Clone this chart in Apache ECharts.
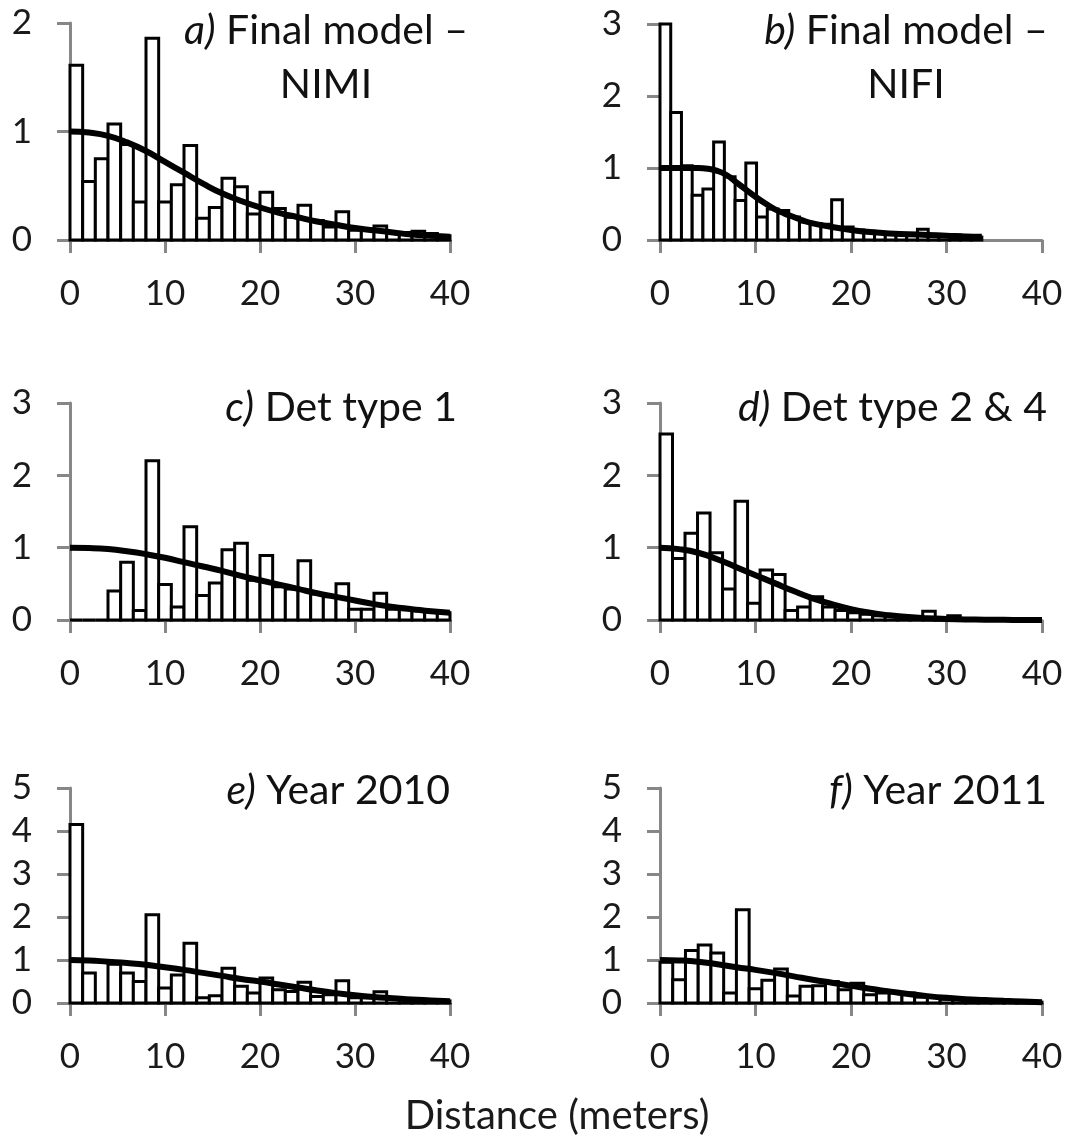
<!DOCTYPE html>
<html>
<head>
<meta charset="utf-8">
<script src="https://cdn.jsdelivr.net/npm/echarts@6/dist/echarts.min.js"></script>
<style>
  html, body { margin: 0; padding: 0; background: #fff; }
  #chart { width: 1068px; height: 1143px; }
</style>
</head>
<body>
<div id="chart"></div>
<script>
// histogram bin widths (m), 30 bins per panel
const binWidths = [40 / 30, 33.7 / 30, 40 / 30, 39.3 / 30, 40 / 30, 40 / 30];

const barsA = [1.61, 0.54, 0.75, 1.07, 0.88, 0.35, 1.86, 0.35, 0.51, 0.87, 0.2, 0.3, 0.57, 0.49, 0.24,
    0.44, 0.29, 0.21, 0.32, 0.18, 0.12, 0.26, 0.09, 0.09, 0.13, 0.06, 0.07, 0.08, 0.06, 0.04];
const barsB = [3.0, 1.77, 1.03, 0.62, 0.71, 1.36, 0.88, 0.55, 1.07, 0.32, 0.43, 0.41, 0.32, 0.25, 0.23,
    0.22, 0.56, 0.18, 0.14, 0.12, 0.1, 0.09, 0.08, 0.07, 0.15, 0.06, 0.05, 0.07, 0.05, 0.04];
const barsC = [0, 0, 0, 0.4, 0.8, 0.13, 2.2, 0.49, 0.18, 1.29, 0.34, 0.51, 0.97, 1.06, 0.55,
    0.89, 0.46, 0.43, 0.82, 0.36, 0.32, 0.5, 0.15, 0.15, 0.37, 0.15, 0.14, 0.13, 0.12, 0.1];
const barsD = [2.57, 0.85, 1.2, 1.48, 0.93, 0.43, 1.64, 0.23, 0.69, 0.63, 0.13, 0.18, 0.32, 0.18, 0.13,
    0.1, 0.08, 0.06, 0.05, 0.04, 0.03, 0.12, 0.03, 0.06, 0.01, 0.02, 0, 0, 0, 0];
const barsE = [4.15, 0.7, 0, 0.9, 0.7, 0.5, 2.05, 0.35, 0.65, 1.39, 0.12, 0.17, 0.81, 0.39, 0.23,
    0.58, 0.31, 0.27, 0.48, 0.15, 0.19, 0.52, 0.12, 0.12, 0.26, 0.09, 0.09, 0.09, 0.06, 0.05];
const barsF = [0.95, 0.54, 1.22, 1.35, 1.16, 0.23, 2.17, 0.33, 0.53, 0.79, 0.16, 0.39, 0.4, 0.5, 0.31,
    0.46, 0.19, 0.23, 0.23, 0.23, 0.14, 0.15, 0.09, 0.08, 0.06, 0.05, 0.05, 0.06, 0.03, 0.02];

// fitted detection curves
const lineX = [0, 2, 4, 6, 8, 10, 12, 14, 16, 18, 20, 22, 24, 26, 28, 30, 32, 34, 36, 38, 40];
const lineXB = [0, 2, 4, 5, 6, 7, 8, 9, 10, 11, 12, 13, 14, 15, 16, 18, 20, 22, 24, 26, 28, 30, 32, 33.7];
const lineA = [1.0, 0.99, 0.96, 0.9, 0.82, 0.72, 0.62, 0.52, 0.43, 0.36, 0.3, 0.25, 0.21, 0.17, 0.14,
    0.11, 0.09, 0.07, 0.05, 0.04, 0.03];
const lineB = [1.0, 1.0, 1.0, 0.99, 0.96, 0.9, 0.8, 0.7, 0.6, 0.51, 0.43, 0.37, 0.32, 0.27, 0.23,
    0.18, 0.14, 0.11, 0.09, 0.08, 0.07, 0.06, 0.05, 0.045];
const lineC = [1.0, 0.995, 0.98, 0.95, 0.91, 0.86, 0.8, 0.74, 0.68, 0.61, 0.55, 0.49, 0.43, 0.37, 0.32,
    0.27, 0.22, 0.18, 0.15, 0.12, 0.1];
const lineD = [1.0, 0.98, 0.93, 0.84, 0.73, 0.62, 0.51, 0.4, 0.3, 0.22, 0.15, 0.1, 0.065, 0.04, 0.025,
    0.015, 0.008, 0.004, 0.002, 0.001, 0];
const lineE = [1.0, 0.99, 0.96, 0.93, 0.89, 0.83, 0.77, 0.7, 0.63, 0.56, 0.5, 0.43, 0.36, 0.29, 0.23,
    0.18, 0.14, 0.11, 0.08, 0.06, 0.04];
const lineF = [1.0, 0.99, 0.96, 0.9, 0.83, 0.77, 0.7, 0.62, 0.54, 0.47, 0.4, 0.33, 0.27, 0.21, 0.16,
    0.12, 0.09, 0.07, 0.05, 0.035, 0.02];

const xTicks = [0, 10, 20, 30, 40];
const yMax = [2, 3, 3, 3, 5, 5];

const panelTitles = [
    ['a)', ' Final model –', 'NIMI'],
    ['b)', ' Final model –', 'NIFI'],
    ['c)', ' Det type 1'],
    ['d)', ' Det type 2 & 4'],
    ['e)', ' Year 2010'],
    ['f)', ' Year 2011']
];

const bars = [barsA, barsB, barsC, barsD, barsE, barsF];
const lines = [lineA, lineB, lineC, lineD, lineE, lineF];
const linesX = [lineX, lineXB, lineX, lineX, lineX, lineX];

const FONT = 'Lato';
const gridPos = [
    { left: 70, top: 23, width: 380, height: 217 },
    { left: 660, top: 24, width: 382, height: 216 },
    { left: 70, top: 403, width: 380, height: 217 },
    { left: 660, top: 403, width: 382, height: 217 },
    { left: 70, top: 788, width: 380, height: 215 },
    { left: 660, top: 788, width: 382, height: 215 }
];
const titlePos = [
    { left: 326, top: 4, align: 'center' }, { left: 906, top: 4, align: 'center' },
    { left: 457, top: 381, align: 'right' }, { left: 1047, top: 381, align: 'right' },
    { left: 450, top: 764, align: 'right' }, { left: 1047, top: 764, align: 'right' }
];

let myChart = echarts.init(document.getElementById('chart'));

const axisColor = '#878787';
let grids = [], xAxes = [], yAxes = [], series = [], titles = [];

for (let i = 0; i < 6; i++) {
    grids.push(gridPos[i]);
    xAxes.push({
        type: 'value', gridIndex: i, min: xTicks[0], max: xTicks[xTicks.length - 1], interval: 10,
        axisLine: { lineStyle: { color: axisColor, width: 3 } },
        axisTick: { length: 13, lineStyle: { color: axisColor, width: 3 } },
        splitLine: { show: false },
        axisLabel: { fontFamily: FONT, fontSize: 35, color: '#1a1a1a', margin: 36 }
    });
    yAxes.push({
        type: 'value', gridIndex: i, min: 0, max: yMax[i], interval: 1,
        axisLine: { show: true, lineStyle: { color: axisColor, width: 3 } },
        axisTick: { show: true, length: 13, lineStyle: { color: axisColor, width: 3 } },
        splitLine: { show: false },
        axisLabel: { fontFamily: FONT, fontSize: 35, color: '#1a1a1a', margin: 38 }
    });

    const w = binWidths[i];
    series.push({
        type: 'custom', xAxisIndex: i, yAxisIndex: i, z: 2,
        data: bars[i].map((v, k) => [k * w, (k + 1) * w, v]),
        renderItem: function (params, api) {
            const p0 = api.coord([api.value(0), 0]);
            const p1 = api.coord([api.value(1), api.value(2)]);
            return {
                type: 'rect',
                shape: { x: p0[0], y: p1[1], width: p1[0] - p0[0], height: p0[1] - p1[1] },
                style: { fill: '#fff', stroke: '#000', lineWidth: 3 }
            };
        }
    });
    series.push({
        type: 'line', xAxisIndex: i, yAxisIndex: i, z: 3, smooth: true, symbol: 'none',
        data: linesX[i].map((x, k) => [x, lines[i][k]]),
        lineStyle: { color: '#000', width: 6 }
    });

    const t = panelTitles[i];
    let text = '{i|' + t[0] + '}' + t[1];
    if (t[2]) text += '\n' + t[2];
    titles.push({
        text: text, left: titlePos[i].left, top: titlePos[i].top, textAlign: titlePos[i].align, padding: 0,
        textStyle: {
            fontFamily: FONT, fontSize: 41, fontWeight: 'normal', color: '#111', lineHeight: 54,
            rich: { i: { fontFamily: FONT, fontSize: 41, fontStyle: 'italic', color: '#111', lineHeight: 54 } }
        }
    });
}

titles.push({
    text: 'Distance (meters)', left: 557, top: 1096, textAlign: 'center', padding: 0,
    textStyle: { fontFamily: FONT, fontSize: 40, fontWeight: 'normal', color: '#1a1a1a' }
});

let option = {
    backgroundColor: '#fff',
    animation: false,
    title: titles,
    grid: grids,
    xAxis: xAxes,
    yAxis: yAxes,
    series: series
};
myChart.setOption(option);
</script>
</body>
</html>
